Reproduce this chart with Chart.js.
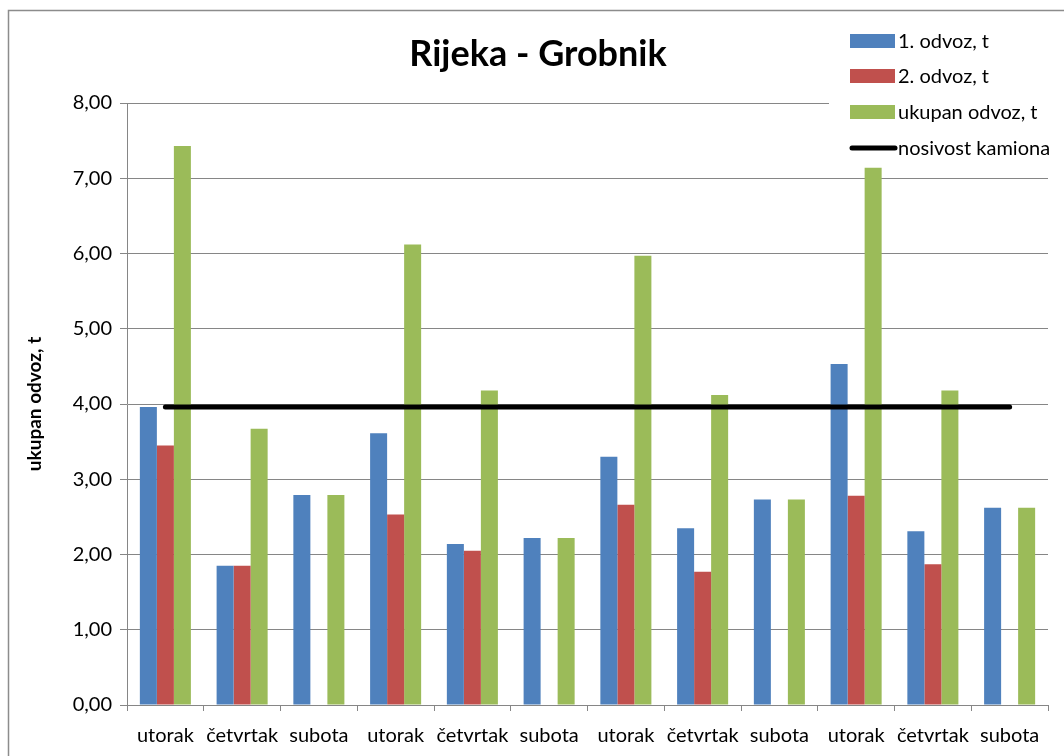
<!DOCTYPE html>
<html>
<head>
<meta charset="utf-8">
<script src="https://cdn.jsdelivr.net/npm/chart.js@4/dist/chart.umd.min.js"></script>
<style>
  body { margin: 0; background: #fff; }
</style>
</head>
<body>
<canvas id="grafikon" width="1064" height="756"></canvas>
<script>
var dani = ['utorak', 'četvrtak', 'subota', 'utorak', 'četvrtak', 'subota',
            'utorak', 'četvrtak', 'subota', 'utorak', 'četvrtak', 'subota'];
var prviOdvoz = [3.96, 1.85, 2.79, 3.61, 2.14, 2.22, 3.30, 2.35, 2.73, 4.53, 2.31, 2.62];
var drugiOdvoz = [3.45, 1.85, null, 2.53, 2.05, null, 2.66, 1.77, null, 2.78, 1.87, null];
var ukupanOdvoz = [7.43, 3.67, 2.79, 6.12, 4.18, 2.22, 5.97, 4.12, 2.73, 7.14, 4.18, 2.62];
var nosivost = [3.96, 3.96, 3.96, 3.96, 3.96, 3.96, 3.96, 3.96, 3.96, 3.96, 3.96, 3.96];

var font = "Lato, 'Open Sans', sans-serif";

// okvir i legenda crtaju se rucno (Excel izgled)
var okvirLegenda = {
    id: 'okvirLegenda',
    afterDraw: function (chart) {
        var ctx = chart.ctx;
        ctx.save();
        ctx.strokeStyle = '#8c8c8c';
        ctx.lineWidth = 1.5;
        ctx.strokeRect(8.5, 10.5, 1200, 900);

        ctx.fillStyle = '#ffffff';
        ctx.fillRect(829, 20, 235, 145);

        ctx.font = '20px ' + font;
        ctx.textBaseline = 'middle';
        var redovi = [41, 76, 112, 148];
        chart.data.datasets.forEach(function (ds, i) {
            var y = redovi[i];
            if (ds.type === 'line') {
                ctx.strokeStyle = ds.borderColor;
                ctx.lineWidth = 5;
                ctx.lineCap = 'round';
                ctx.beginPath();
                ctx.moveTo(852, y);
                ctx.lineTo(895, y);
                ctx.stroke();
            } else {
                ctx.fillStyle = ds.backgroundColor;
                ctx.fillRect(850, y - 7, 45, 14);
            }
            ctx.fillStyle = '#000';
            ctx.fillText(ds.label, 898, y + 1);
        });
        ctx.restore();
    }
};

var ctx = document.getElementById('grafikon').getContext('2d');
new Chart(ctx, {
    type: 'bar',
    data: {
        labels: dani,
        datasets: [{
            label: '1. odvoz, t',
            data: prviOdvoz,
            backgroundColor: '#4F81BD',
            order: 1
        }, {
            label: '2. odvoz, t',
            data: drugiOdvoz,
            backgroundColor: '#C0504D',
            order: 1
        }, {
            label: 'ukupan odvoz, t',
            data: ukupanOdvoz,
            backgroundColor: '#9BBB59',
            order: 1
        }, {
            type: 'line',
            label: 'nosivost kamiona',
            data: nosivost,
            borderColor: '#000000',
            borderWidth: 5,
            borderCapStyle: 'round',
            pointRadius: 0,
            order: 0
        }]
    },
    options: {
        responsive: false,
        animation: false,
        devicePixelRatio: 1,
        categoryPercentage: 0.665,
        barPercentage: 1,
        layout: {
            padding: { left: 28, right: 16, top: 0, bottom: 0 }
        },
        plugins: {
            legend: { display: false },
            tooltip: { enabled: false },
            title: {
                display: true,
                text: 'Rijeka - Grobnik',
                color: '#000',
                font: { family: font, size: 36, weight: 'bold', lineHeight: 1.2 },
                padding: { top: 33, bottom: 26.8 }
            }
        },
        scales: {
            x: {
                grid: {
                    offset: true,
                    drawOnChartArea: false,
                    color: '#868686',
                    tickLength: 6
                },
                border: { color: '#868686', width: 1 },
                ticks: {
                    color: '#000',
                    font: { family: font, size: 20 },
                    maxRotation: 0,
                    autoSkip: false,
                    padding: 13
                },
                afterFit: function (scale) { scale.height = 51; }
            },
            y: {
                min: 0,
                max: 8,
                grid: {
                    color: '#868686',
                    tickLength: 7
                },
                border: { color: '#868686', width: 1 },
                ticks: {
                    stepSize: 1,
                    color: '#000',
                    padding: 8,
                    font: { family: font, size: 20 },
                    callback: function (v) { return v.toFixed(2).replace('.', ','); }
                },
                title: {
                    display: true,
                    text: 'ukupan odvoz, t',
                    color: '#000',
                    font: { family: font, size: 19, weight: 'bold', lineHeight: 1.2 },
                    padding: { top: -5, bottom: 0 }
                },
                afterFit: function (scale) { scale.width = 99; }
            }
        }
    },
    plugins: [okvirLegenda]
});
</script>
</body>
</html>
